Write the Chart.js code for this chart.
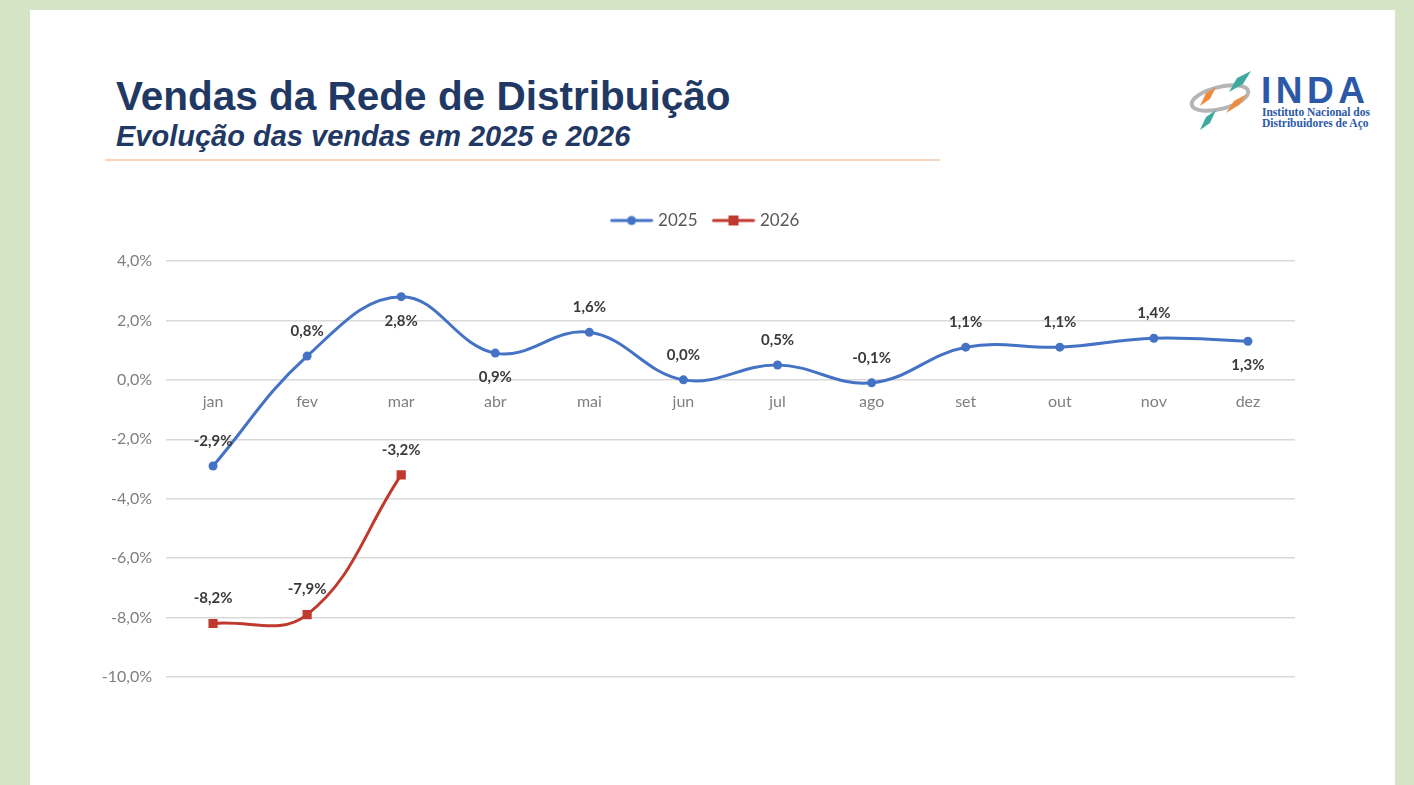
<!DOCTYPE html>
<html lang="pt">
<head>
<meta charset="utf-8">
<title>Vendas da Rede de Distribuição</title>
<script src="https://cdn.jsdelivr.net/npm/chart.js@4.4.1/dist/chart.umd.min.js"></script>
<style>
  html, body { margin: 0; padding: 0; }
  body { width: 1414px; height: 785px; background: #d5e4c4; position: relative; overflow: hidden; }
  .panel { position: absolute; left: 30px; top: 10px; width: 1365px; height: 775px; background: #fff; }
  .title { position: absolute; left: 86px; top: 63px; font-family: "Liberation Sans", Arial, sans-serif; font-weight: bold; font-size: 40.5px; color: #1f3864; white-space: nowrap; }
  .subtitle { position: absolute; left: 86px; top: 110px; font-family: "Liberation Sans", Arial, sans-serif; font-weight: bold; font-style: italic; font-size: 29px; color: #1f3864; white-space: nowrap; }
  .rule { position: absolute; left: 75px; top: 149px; width: 835px; height: 2px; background: #f8d3bd; }
  .logo { position: absolute; left: 1155px; top: 58px; width: 230px; height: 80px; }
  .logo svg { position: absolute; left: 0; top: 0; }
  .logo .name { position: absolute; left: 76px; top: 4px; font-family: "Liberation Sans", Arial, sans-serif; font-weight: bold; font-size: 37px; line-height: 38px; color: #2b59a8; letter-spacing: 4.5px; }
  .logo .sub { position: absolute; left: 77px; top: 39px; font-family: "Liberation Serif", serif; font-weight: bold; font-size: 11.5px; line-height: 11px; color: #2b59a8; }
  #chartWrap { position: absolute; left: 30px; top: 185px; width: 1365px; height: 600px; }
</style>
</head>
<body>
<div class="panel">
  <div class="title">Vendas da Rede de Distribuição</div>
  <div class="subtitle">Evolução das vendas em 2025 e 2026</div>
  <div class="rule"></div>
  <div class="logo">
    <svg width="76" height="80" viewBox="0 0 76 80">
      <ellipse cx="35" cy="30" rx="29" ry="11" fill="none" stroke="#b5b5b5" stroke-width="4" transform="rotate(-14 35 30)"/>
      <polygon points="66,3 52,10 44,24 58,16" fill="#3fa9a0"/>
      <polygon points="31,19 21,25 15,38 25,31" fill="#f08a3c"/>
      <polygon points="62,26 49,33 41,45 54,37" fill="#f08a3c"/>
      <polygon points="31,42 21,49 15,62 25,55" fill="#3fa9a0"/>
    </svg>
    <div class="name">INDA</div>
    <div class="sub">Instituto Nacional dos<br>Distribuidores de Aço</div>
  </div>
</div>
<div id="chartWrap"><canvas id="vendas-chart"></canvas></div>

<script>
// Monthly sales variation
const months = ["jan", "fev", "mar", "abr", "mai", "jun", "jul", "ago", "set", "out", "nov", "dez"];
const vendas2025 = [-2.9, 0.8, 2.8, 0.9, 1.6, 0.0, 0.5, -0.1, 1.1, 1.1, 1.4, 1.3];
const vendas2026 = [-8.2, -7.9, -3.2, null, null, null, null, null, null, null, null, null];
// "up" = label above the point, "down" = below
const labelPos2025 = ["up", "up", "down", "down", "up", "up", "up", "up", "up", "up", "up", "down"];
const labelPos2026 = ["up", "up", "up"];
const yTicks = { min: -10, max: 4, step: 2 };

const blue = "#4472c4";
const red = "#c0392f";
const chartFont = "Lato, 'Noto Sans', sans-serif";

function formatPct(v) {
  const s = Math.abs(v) < 0.0001 ? "0,0" : v.toFixed(1).replace(".", ",");
  return s + "%";
}

// Small images for the legend: line with marker, Excel style
function legendImage(color, square) {
  const c = document.createElement("canvas");
  c.width = 44;
  c.height = 12;
  const g = c.getContext("2d");
  g.strokeStyle = color;
  g.lineWidth = 3;
  g.lineCap = "round";
  g.beginPath();
  g.moveTo(2, 6);
  g.lineTo(42, 6);
  g.stroke();
  g.fillStyle = color;
  if (square) {
    g.fillRect(17, 1, 10, 10);
  } else {
    g.beginPath();
    g.arc(22, 6, 4.5, 0, Math.PI * 2);
    g.fill();
  }
  return c;
}

// Extra room between the legend and the plot, legend nudged right
const legendSpacing = {
  id: "legendSpacing",
  beforeInit: function (chart) {
    const originalFit = chart.legend.fit;
    chart.legend.fit = function () {
      originalFit.bind(chart.legend)();
      this.height += 22;
    };
  },
  afterLayout: function (chart) {
    chart.legend.left += 14;
    chart.legend.right += 14;
  },
};

// Data labels drawn next to each point
const pointLabels = {
  id: "pointLabels",
  afterDatasetsDraw: function (chart) {
    const ctx = chart.ctx;
    const positions = [labelPos2025, labelPos2026];
    ctx.save();
    ctx.font = "bold 15px " + chartFont;
    ctx.fillStyle = "#3a3a3a";
    ctx.textAlign = "center";
    ctx.textBaseline = "middle";
    chart.data.datasets.forEach(function (ds, i) {
      const meta = chart.getDatasetMeta(i);
      meta.data.forEach(function (pt, j) {
        const v = ds.data[j];
        if (v === null || v === undefined) return;
        const dy = positions[i][j] === "down" ? 24 : -25;
        ctx.fillText(formatPct(v), pt.x, pt.y + dy);
      });
    });
    ctx.restore();
  },
};

document.addEventListener("DOMContentLoaded", function () {
  const ctx = document.getElementById("vendas-chart").getContext("2d");

  const data = {
    labels: months,
    datasets: [
      {
        label: "2025",
        data: vendas2025,
        borderColor: blue,
        backgroundColor: blue,
        borderWidth: 3,
        tension: 0.4,
        pointStyle: "circle",
        pointRadius: 4.5,
        pointBorderWidth: 0,
      },
      {
        label: "2026",
        data: vendas2026,
        borderColor: red,
        backgroundColor: red,
        borderWidth: 3,
        tension: 0.4,
        pointStyle: "rect",
        pointRadius: 6.5,
        pointBorderWidth: 0,
      },
    ],
  };

  const legendImages = [legendImage(blue, false), legendImage(red, true)];

  new Chart(ctx, {
    type: "line",
    data: data,
    plugins: [legendSpacing, pointLabels],
    options: {
      responsive: true,
      maintainAspectRatio: false,
      animation: false,
      layout: {
        padding: { left: 60, right: 100, top: 9, bottom: 108 },
      },
      plugins: {
        legend: {
          position: "top",
          labels: {
            usePointStyle: true,
            pointStyleWidth: 36,
            color: "#595959",
            font: { family: chartFont, size: 17 },
            padding: 18,
            generateLabels: function (chart) {
              return chart.data.datasets.map(function (ds, i) {
                return {
                  text: ds.label,
                  pointStyle: legendImages[i],
                  fillStyle: ds.borderColor,
                  strokeStyle: ds.borderColor,
                  lineWidth: 0,
                  fontColor: "#595959",
                  hidden: false,
                  datasetIndex: i,
                };
              });
            },
          },
        },
        tooltip: { enabled: false },
      },
      scales: {
        x: {
          position: { y: 0 },
          offset: true,
          grid: { display: false, drawTicks: false },
          border: { display: false },
          ticks: {
            color: "#7f7f7f",
            padding: 12,
            font: { family: chartFont, size: 16 },
          },
        },
        y: {
          min: yTicks.min,
          max: yTicks.max,
          afterFit: function (scale) {
            scale.width = 76;
          },
          grid: { color: "#d9d9d9", lineWidth: 1.5, drawTicks: false },
          border: { display: false },
          ticks: {
            stepSize: yTicks.step,
            padding: 14,
            color: "#7f7f7f",
            font: { family: chartFont, size: 16 },
            callback: function (value) {
              return formatPct(value);
            },
          },
        },
      },
    },
  });
});
</script>
</body>
</html>
